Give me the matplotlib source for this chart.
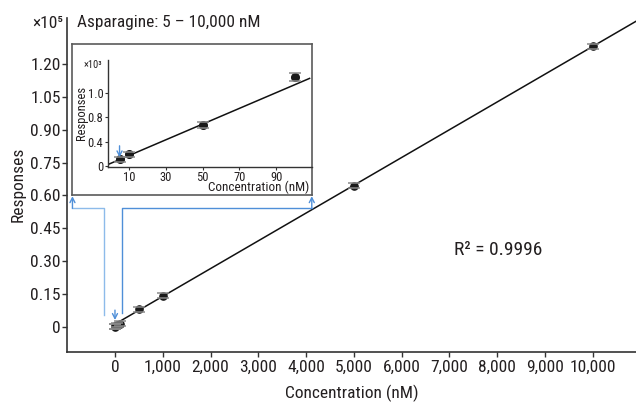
import matplotlib
matplotlib.use("Agg")

import matplotlib.pyplot as plt

plt.rcParams["font.family"] = ["Roboto Condensed", "Roboto", "DejaVu Sans"]

# ── data (responses x10^5 in main chart, x10^3 in inset) ─────────────────────
conc = [5, 10, 50, 100, 500, 1000, 5000, 10000]
resp = [0.0011, 0.0019, 0.0068, 0.0147, 0.080, 0.142, 0.645, 1.280]
resp_err = [0.010, 0.010, 0.010, 0.010, 0.012, 0.012, 0.012, 0.012]

conc_in = [5, 10, 50, 100]
resp_in = [0.11, 0.19, 0.676, 1.47]
resp_in_err = [0.04, 0.04, 0.05, 0.065]

fit_slope, fit_intercept = 1.268e-4, 0.012
fit_in_slope, fit_in_intercept = 0.013, 0.038

x_ticks = [0, 1000, 2000, 3000, 4000, 5000, 6000, 7000, 8000, 9000, 10000]
x_labels = ["0", "1,000", "2,000", "3,000", "4,000", "5,000", "6,000",
            "7,000", "8,000", "9,000", "10,000"]
y_ticks = [0, 0.15, 0.30, 0.45, 0.60, 0.75, 0.90, 1.05, 1.20]
y_labels = ["0", "0.15", "0.30", "0.45", "0.60", "0.75", "0.90", "1.05", "1.20"]

in_x_ticks = [10, 30, 50, 70, 90]
in_y_ticks = [0, 0.4, 0.8, 1.2]
in_y_labels = ["0", "0.4", "0.8", "1.0"]

TXT = "#231f20"
SPINE = "#333333"
BLUE = "#4f8fd8"
BLUE_LIGHT = "#8dbbea"

W, H = 636, 404
fig = plt.figure(figsize=(W / 100, H / 100), dpi=100)

# ── main axes ────────────────────────────────────────────────────────────────
left, right, bottom, top = 67.3, 636, 351.5, 18
ax = fig.add_axes([left / W, 1 - bottom / H, (right - left) / W, (bottom - top) / H])
ax.set_xlim(-998, 10907)
ax.set_ylim(-0.113, 1.41)
for s in ["top", "right"]:
    ax.spines[s].set_visible(False)
for s in ["left", "bottom"]:
    ax.spines[s].set_color(SPINE)
    ax.spines[s].set_linewidth(1.2)

ax.set_xticks(x_ticks, x_labels)
ax.set_yticks(y_ticks, y_labels)
ax.tick_params(axis="both", direction="out", length=3.3, width=1, color=SPINE,
               labelsize=12.5, labelcolor=TXT)
ax.tick_params(axis="y", pad=1.5)
ax.tick_params(axis="x", pad=3)
ax.set_xlabel("Concentration (nM)", fontsize=12.5, color=TXT, labelpad=7)
ax.set_ylabel("Responses", fontsize=12.5, color=TXT)
ax.yaxis.set_label_coords(-0.0867, 0.5)
ax.yaxis.label.set_va("center")

# fitted line + points
ax.plot([30, 10907], [fit_intercept + fit_slope * 30, fit_intercept + fit_slope * 10907],
        color="#111111", lw=1.1, zorder=2)
ax.plot(conc, resp, "o", color="#1a1a1a", ms=5.2, zorder=3)
ax.errorbar(conc, resp, yerr=resp_err, fmt="none", ecolor="#8a8a8a",
            elinewidth=0, capsize=4.5, capthick=1.1, zorder=4)

ax.text(8020, 0.351, "R² = 0.9996", fontsize=14, color=TXT, ha="center", va="center")

# blue connector lines to the inset
ax.plot([-230, -230, -890], [0.0535, 0.541, 0.541], color=BLUE_LIGHT, lw=1, clip_on=False)
ax.plot([153, 153, 4120], [0.0626, 0.541, 0.541], color=BLUE, lw=1, clip_on=False)
arrow = dict(arrowstyle="->,head_length=0.35,head_width=0.18", color=BLUE, lw=1,
             shrinkA=0, shrinkB=0)
ax.annotate("", xy=(-890, 0.596), xytext=(-890, 0.541), arrowprops=arrow,
            annotation_clip=False)
ax.annotate("", xy=(4120, 0.596), xytext=(4120, 0.541), arrowprops=arrow,
            annotation_clip=False)
ax.annotate("", xy=(0, 0.031), xytext=(0, 0.076), arrowprops=arrow)

fig.text(32 / W, 1 - 24 / H, "×10⁵", fontsize=12.5, color=TXT, ha="left", va="center")
fig.text(77 / W, 1 - 22 / H, "Asparagine: 5 – 10,000 nM", fontsize=12.4, color=TXT,
         ha="left", va="center")

# ── inset ────────────────────────────────────────────────────────────────────
box = ax.inset_axes([-890, 0.603, 4120 + 890, 1.293 - 0.603], transform=ax.transData)
box.set_xticks([])
box.set_yticks([])
box.set_facecolor("white")
for s in box.spines.values():
    s.set_color("#5a5a5a")
    s.set_linewidth(1.2)

axin = ax.inset_axes([-140, 0.7316, 4120 + 140, 1.2195 - 0.7316], transform=ax.transData)
axin.patch.set_alpha(0)
axin.set_xlim(-1.1, 109.2)
axin.set_ylim(-0.012, 1.75)
for s in ["top", "right"]:
    axin.spines[s].set_visible(False)
for s in ["left", "bottom"]:
    axin.spines[s].set_color(SPINE)
    axin.spines[s].set_linewidth(1)
axin.set_xticks(in_x_ticks)
axin.set_yticks(in_y_ticks, in_y_labels)
axin.tick_params(axis="both", direction="out", length=2.5, width=0.8, color=SPINE,
                 labelsize=9, labelcolor=TXT, pad=1)
axin.set_xlabel("Concentration (nM)", fontsize=9.5, color=TXT)
axin.xaxis.set_label_coords(0.74, -0.135)
axin.set_ylabel("Responses", fontsize=9, color=TXT, labelpad=0)
axin.yaxis.set_label_coords(-0.131, 0.5)
axin.yaxis.label.set_va("center")
axin.text(-0.124, 0.953, "×10³", transform=axin.transAxes, fontsize=7.5, color=TXT,
          ha="left", va="center")

axin.plot([-0.8, 108], [fit_in_intercept - 0.8 * fit_in_slope,
                        fit_in_intercept + 108 * fit_in_slope],
          color="#111111", lw=1.1, zorder=2)
axin.plot(conc_in, resp_in, "o", color="#1a1a1a", ms=5.5, zorder=3)
axin.errorbar(conc_in, resp_in, yerr=resp_in_err, fmt="none", ecolor="#8a8a8a",
              elinewidth=0, capsize=4.5, capthick=1.1, zorder=4)
axin.annotate("", xy=(5, 0.14), xytext=(5, 0.33), arrowprops=arrow)

fig.savefig("out.png", dpi=100)
